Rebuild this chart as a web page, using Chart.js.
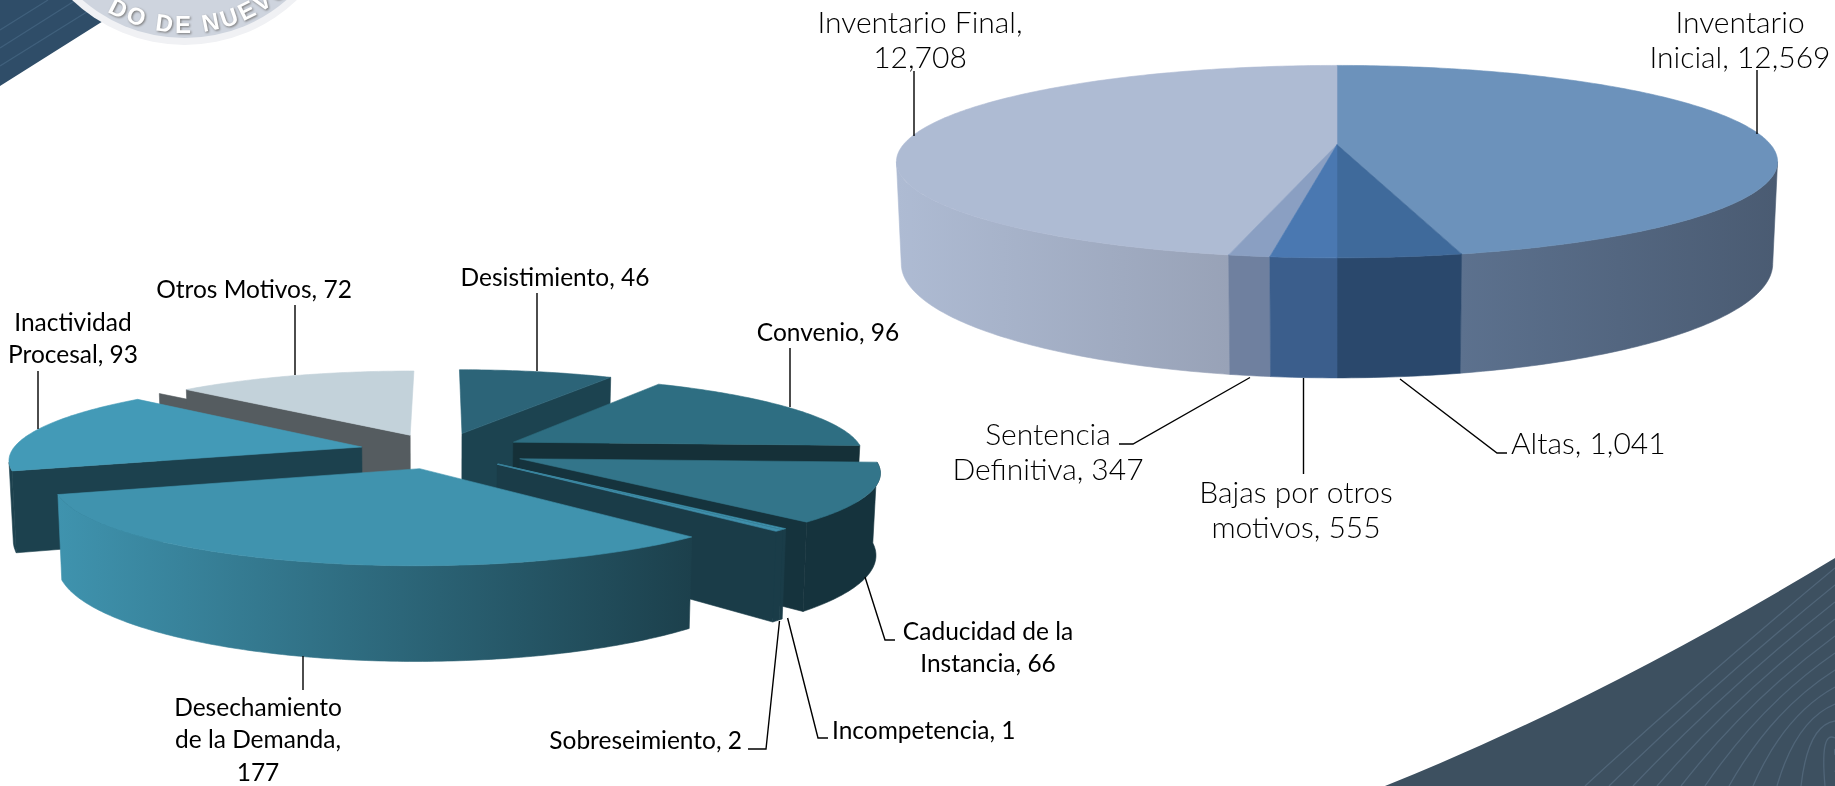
<!DOCTYPE html>
<html>
<head>
<meta charset="utf-8">
<title>Inventario y motivos de baja</title>
<script src="https://cdn.jsdelivr.net/npm/chart.js@4/dist/chart.umd.min.js"></script>
<style>
  html, body { margin: 0; padding: 0; background: #fff; overflow: hidden; }
  #page { position: relative; width: 1835px; height: 786px; overflow: hidden; }
  #page svg, #page canvas { position: absolute; left: 0; top: 0; }
</style>
</head>
<body>
<div id="page">
  <svg id="backdrop" width="1835" height="786" viewBox="0 0 1835 786">
    <defs>
      <path id="sealArc" d="M 33.5 -118 A 151 151 0 0 0 335.5 -118"></path>
    </defs>
    <path d="M0 0 L140 0 L100 23 L0 86 Z" fill="#2f4d68"></path>
    <g stroke="#40607c" stroke-width="1.2" fill="none">
      <path d="M0 30 L48 0"></path><path d="M0 48 L76 0"></path><path d="M0 66 L106 0"></path>
    </g>
    <circle cx="184.5" cy="-118" r="163" fill="#f0f1f4"></circle>
    <circle cx="184.5" cy="-118" r="156" fill="#ced4de"></circle>
    <text font-family="Liberation Sans" font-weight="bold" font-size="24" fill="#fff"
          style="filter: drop-shadow(1px 1px 1px #777)" text-anchor="middle" letter-spacing="3">
      <textPath href="#sealArc" startOffset="54%">DO DE NUEVO</textPath>
    </text>
    <path d="M1385 786 Q1600 700 1835 558 L1835 786 Z" fill="#3d5060"></path>
    <g id="stripes" stroke="#506578" stroke-width="1.3" fill="none"></g>
  </svg>
  <canvas id="leftPie" width="1835" height="786"></canvas>
  <canvas id="rightPie" width="1835" height="786"></canvas>
</div>
<script>
// Right pie data
const stockLabels = ['Inventario Inicial', 'Altas', 'Bajas por otros motivos', 'Sentencia Definitiva', 'Inventario Final'];
const stockValues = [12569, 1041, 555, 347, 12708];

// Left pie data
const motiveLabels = ['Desistimiento', 'Convenio', 'Caducidad de la Instancia', 'Incompetencia', 'Sobreseimiento', 'Desechamiento de la Demanda', 'Inactividad Procesal', 'Otros Motivos'];
const motiveValues = [46, 96, 66, 1, 2, 177, 93, 72];

// Slice colours
const stockTop = ['#6c92bb', '#3f6a9b', '#4a78b1', '#8a9fc2', '#aebbd3'];
const stockWall = [['#5c718e', '#4a5b72'], ['#2a486c', '#2a486c'], ['#3b5e8c', '#3b5e8c'], ['#6f809f', '#6f809f'], ['#aebbd3', '#98a2b7']];
const motiveTop = ['#2c6478', '#2e6e82', '#33758a', '#3f93ae', '#3f8fab', '#4093ae', '#439ab7', '#c3d2da'];
const motiveWall = [['#1c4350', '#1c4350'], ['#153038', '#153038'], ['#15333d', '#15333d'], ['#1a3c48', '#1a3c48'], ['#1a3c48', '#1a3c48'], ['#3f93ae', '#1c404c'], ['#1c414e', '#1c414e'], ['#555c60', '#555c60']];
const motiveOffsets = [84, 84, 85, 80, 80, 80, 82, 80];

// The grey wall of Otros Motivos shows a second step behind its corner
const motiveLips = [null, null, null, null, null, null, null, [-27, 4]];

// Projection of each pie on the page
const stockView = { cx: 1337, cy: 144.6, s: 433.6, a: 93.2, k: 0.177, depth: 98.8, taper: 0.011 };
const motiveView = { cx: 441, cy: 451, s: 350, a: 77.6, k: 0.143, depth: 79, taper: 0.01 };

// Label placement: anchor of the first line, word count of each line, leader line
const stockNotes = [
    { x: 1740, y: 23, align: 'center', words: [1, 2], leader: [[1757, 70], [1757, 134]] },
    { x: 1511, y: 444, align: 'left', words: [2], leader: [[1400, 379], [1497, 453], [1507, 453]] },
    { x: 1296, y: 493, align: 'center', words: [3, 2], leader: [[1303.5, 378], [1303.5, 474]] },
    { x: 1048, y: 435, align: 'center', words: [1, 2], leader: [[1250, 377.5], [1133, 444], [1119, 444]] },
    { x: 920, y: 23, align: 'center', words: [2, 1], leader: [[914, 71], [914, 136]] }
];
const motiveNotes = [
    { x: 555, y: 278.5, align: 'center', words: [2], leader: [[537, 293], [537, 371]] },
    { x: 828, y: 333, align: 'center', words: [2], leader: [[790, 348], [790, 407]] },
    { x: 988, y: 632, align: 'center', words: [3, 2], leader: [[865, 577], [885, 640], [895, 640]] },
    { x: 832, y: 731, align: 'left', words: [2], leader: [[787.6, 618], [818, 738], [828, 738]] },
    { x: 742, y: 741.5, align: 'right', words: [2], leader: [[779.5, 621], [766, 749], [748, 749]] },
    { x: 258, y: 708, align: 'center', words: [1, 3, 1], leader: [[303, 656], [303, 690]] },
    { x: 73, y: 323, align: 'center', words: [1, 2], leader: [[38, 371], [38, 429]] },
    { x: 254, y: 290, align: 'center', words: [3], leader: [[295, 305], [295, 375]] }
];

// Map a point of the unit disc to the page, z = 0 top face, z = 1 bottom face
function project(v, x, y, z) {
    const w = 1 - v.k * y;
    return [v.cx + v.s * x * (1 - z * v.taper) / w, v.cy + (v.a * y + z * v.depth) / w];
}

function rimPoints(v, ox, oy, from, to, z) {
    const steps = Math.max(2, Math.ceil((to - from) / 0.015));
    const pts = [];
    for (let i = 0; i <= steps; i++) {
        const t = from + (to - from) * i / steps;
        pts.push(project(v, ox + Math.cos(t), oy + Math.sin(t), z));
    }
    return pts;
}

function fillShape(ctx, pts, fill) {
    ctx.beginPath();
    pts.forEach((p, i) => i ? ctx.lineTo(p[0], p[1]) : ctx.moveTo(p[0], p[1]));
    ctx.closePath();
    ctx.fillStyle = fill;
    ctx.strokeStyle = fill;
    ctx.lineWidth = 0.6;
    ctx.fill();
    ctx.stroke();
}

function wallGradient(ctx, pts, stops) {
    const xs = pts.map(p => p[0]);
    const g = ctx.createLinearGradient(Math.min(...xs), 0, Math.max(...xs), 0);
    g.addColorStop(0, stops[0]);
    g.addColorStop(1, stops[1]);
    return g;
}

function drawSlice(ctx, v, arc, wall, lip) {
    const start = arc.startAngle;
    const end = arc.endAngle;
    const mid = (start + end) / 2;
    const off = (arc.options.offset || 0) / arc.outerRadius;
    const ox = off * Math.cos(mid);
    const oy = off * Math.sin(mid);

    // outer wall, only the part that faces the viewer
    const edge = Math.asin(Math.max(-1, Math.min(1, v.k - oy)));
    const lo = Math.max(start, edge);
    const hi = Math.min(end, Math.PI - edge);
    if (lo < hi) {
        const pts = rimPoints(v, ox, oy, lo, hi, 0).concat(rimPoints(v, ox, oy, lo, hi, 1).reverse());
        fillShape(ctx, pts, wallGradient(ctx, pts, wall));
    }

    // cut walls of exploded slices
    if (off > 0) {
        [[start, -Math.cos(start)], [end, Math.cos(end)]].forEach(([angle, facing]) => {
            if (facing <= 0) return;
            const rx = ox + Math.cos(angle);
            const ry = oy + Math.sin(angle);
            const pts = [project(v, ox, oy, 0), project(v, rx, ry, 0), project(v, rx, ry, 1), project(v, ox, oy, 1)];
            if (lip) fillShape(ctx, pts.map(p => [p[0] + lip[0], p[1] + lip[1]]), wall[1]);
            fillShape(ctx, pts, wall[1]);
        });
    }

    // top face
    fillShape(ctx, [project(v, ox, oy, 0)].concat(rimPoints(v, ox, oy, start, end, 0)), arc.options.backgroundColor);
}

function drawNotes(ctx, labels, values, notes, font, lineHeight) {
    ctx.strokeStyle = '#000';
    ctx.lineWidth = 1.4;
    ctx.fillStyle = '#000';
    ctx.font = font;
    ctx.textBaseline = 'middle';
    notes.forEach((note, i) => {
        ctx.beginPath();
        note.leader.forEach((p, j) => j ? ctx.lineTo(p[0], p[1]) : ctx.moveTo(p[0], p[1]));
        ctx.stroke();
        const words = `${labels[i]}, ${values[i].toLocaleString('en-US')}`.split(' ');
        ctx.textAlign = note.align;
        let used = 0;
        note.words.forEach((count, row) => {
            ctx.fillText(words.slice(used, used + count).join(' '), note.x, note.y + row * lineHeight);
            used += count;
        });
    });
}

// Draws the pie in perspective from the arc elements Chart.js laid out
function pie3d(view, walls, lips, labels, values, notes, font, lineHeight) {
    return {
        id: 'pie3d',
        beforeDatasetDraw(chart) {
            const arcs = chart.getDatasetMeta(0).data;
            const order = arcs.map((arc, i) => i).sort((a, b) =>
                Math.sin((arcs[a].startAngle + arcs[a].endAngle) / 2) - Math.sin((arcs[b].startAngle + arcs[b].endAngle) / 2));
            order.forEach(i => drawSlice(chart.ctx, view, arcs[i], walls[i], lips[i]));
            return false;
        },
        afterDraw(chart) {
            drawNotes(chart.ctx, labels, values, notes, font, lineHeight);
        }
    };
}

function makePie(id, labels, values, top, offsets, plugin) {
    return new Chart(document.getElementById(id), {
        type: 'pie',
        data: {
            labels: labels,
            datasets: [{ data: values, backgroundColor: top, borderWidth: 0, offset: offsets }]
        },
        options: {
            responsive: false,
            animation: false,
            events: [],
            plugins: { legend: { display: false }, tooltip: { enabled: false } }
        },
        plugins: [plugin]
    });
}

// Backdrop stripes
function drawStripes() {
    const group = document.getElementById('stripes');
    let paths = '';
    for (let i = 0; i < 14; i++) {
        paths += `<path d="M${1585 + i * 24} 786 Q${1700 + i * 12} ${680 + i * 5} 1835 ${568 + i * 17}"></path>`;
    }
    group.innerHTML = paths;
}

function init() {
    drawStripes();
    makePie('leftPie', motiveLabels, motiveValues, motiveTop, motiveOffsets,
        pie3d(motiveView, motiveWall, motiveLips, motiveLabels, motiveValues, motiveNotes, '24.5px Lato', 32.5));
    makePie('rightPie', stockLabels, stockValues, stockTop, stockValues.map(() => 0),
        pie3d(stockView, stockWall, stockValues.map(() => null), stockLabels, stockValues, stockNotes, '300 30px Lato', 35));
}

init();
</script>
</body>
</html>
